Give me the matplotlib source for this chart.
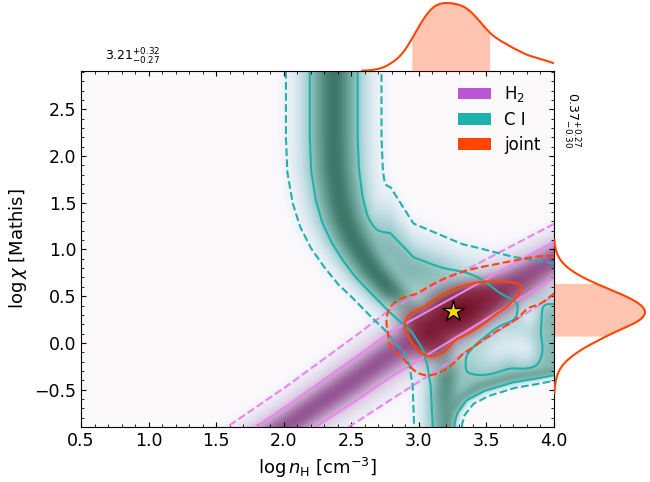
import numpy as np
import matplotlib
matplotlib.use("Agg")
import matplotlib.pyplot as plt
from matplotlib.colors import LinearSegmentedColormap
from matplotlib.patches import Patch
from matplotlib.path import Path
from matplotlib.ticker import MultipleLocator

# ---------------- data ----------------
n_range = [0.5, 4.0]
chi_range = [-0.9, 2.91]

# marginal summaries (text in the figure)
nh_med, nh_plus, nh_minus = 3.21, 0.32, 0.27
chi_med, chi_plus, chi_minus = 0.37, 0.27, 0.30
best_n, best_chi = 3.25, 0.34

# H2 constraint: ridge centre and vertical width
h2_ridge_n = [1.0, 2.01, 2.54, 2.79, 4.0, 4.6]
h2_ridge_chi = [-1.90, -0.90, -0.38, -0.125, 0.89, 1.35]
h2_ridge_w = [0.21, 0.21, 0.23, 0.24, 0.19, 0.19]

# CI constraint: L-shaped main ridge (vertices, widths, amplitudes)
ci_ridge_n = [2.37, 2.37, 2.38, 2.41, 2.45, 2.51, 2.58, 2.66, 2.75, 2.90, 3.07, 3.15, 3.19, 3.20, 3.20]
ci_ridge_chi = [3.6, 2.2, 1.85, 1.55, 1.33, 1.13, 0.95, 0.78, 0.63, 0.41, 0.19, 0.0, -0.2, -0.45, -1.3]
ci_ridge_w = [0.175, 0.175, 0.175, 0.172, 0.168, 0.163, 0.155, 0.148, 0.14, 0.14, 0.14, 0.135, 0.13,
              0.125, 0.12]
ci_ridge_amp = [1.0] * 13 + [0.9, 0.75]

# CI broad bump where the constraint is strongest
ci_bump_centre = [3.26, 0.38]
ci_bump_sig = [0.25, 0.30]
ci_bump_amp = 1.3

# CI lower strip along the sharp edge
ci_strip_n = [3.20, 3.23, 3.31, 3.46, 3.70, 4.20]
ci_strip_chi = [-1.1, -0.80, -0.60, -0.47, -0.38, -0.28]
ci_strip_w = [0.09] * 6
ci_strip_amp = [0.8] * 6

# sharp lower-right edge of the CI constraint
ci_edge_n = [3.27, 3.29, 3.31, 3.38, 3.50, 3.70, 3.90, 4.20]
ci_edge_chi = [-1.2, -0.86, -0.76, -0.63, -0.54, -0.45, -0.40, -0.31]

# CI plateau in the lower right: amplitude and upper fall-off
ci_plateau = 0.7
ci_top_n = [2.4, 2.79, 2.96, 3.33, 3.70, 4.0, 4.2]
ci_top_chi = [1.10, 0.97, 0.764, 0.563, 0.26, 0.233, 0.23]
ci_top_w = [0.40, 0.38, 0.28, 0.266, 0.36, 0.336, 0.336]

# holes inside the CI plateau: centre n, centre chi, axis angle (deg), sigma major, sigma minor, depth
hole_n = [3.62, 3.80, 3.82]
hole_chi = [-0.05, -0.10, 0.30]
hole_ang = [53.0, 90.0, 90.0]
hole_sa = [0.20, 0.12, 0.10]
hole_sb = [0.11, 0.07, 0.05]
hole_depth = [0.40, 0.30, 0.30]

# contour levels (relative density) for 1 and 2 sigma
lev_1s, lev_2s = 0.6, 0.13

# ---------------- grid and helpers ----------------
N = 420
ng = np.linspace(n_range[0], n_range[1], N)
cg = np.linspace(chi_range[0], chi_range[1], N)
X, Y = np.meshgrid(ng, cg)
P = np.column_stack([X.ravel(), Y.ravel()])


def poly_nearest(px, py):
    pts = np.column_stack([px, py])
    a = pts[:-1]
    b = pts[1:]
    ab = b - a
    L2 = (ab ** 2).sum(1)
    rel = P[:, None, :] - a[None, :, :]
    t = np.clip((rel * ab[None]).sum(2) / L2[None], 0, 1)
    proj = a[None] + t[..., None] * ab[None]
    d = np.sqrt(((P[:, None, :] - proj) ** 2).sum(2))
    idx = d.argmin(1)
    r = np.arange(len(P))
    return d[r, idx], idx, t[r, idx]


def tube(px, py, w, amp):
    d, i, t = poly_nearest(px, py)
    w = np.asarray(w)
    amp = np.asarray(amp)
    ww = w[i] * (1 - t) + w[i + 1] * t
    aa = amp[i] * (1 - t) + amp[i + 1] * t
    return (aa * np.exp(-0.5 * (d / ww) ** 2)).reshape(X.shape)


def side(px, py, extra):
    verts = list(zip(px, py)) + extra
    inside = Path(verts + [verts[0]]).contains_points(P)
    d, _, _ = poly_nearest(px, py)
    return (np.where(inside, -1.0, 1.0) * d).reshape(X.shape)


def sigmoid(z):
    return 1.0 / (1.0 + np.exp(-z))


def blob(cn, cc, ang, sa, sb):
    t = np.deg2rad(ang)
    dx, dy = X - cn, Y - cc
    a1 = dx * np.cos(t) + dy * np.sin(t)
    a2 = -dx * np.sin(t) + dy * np.cos(t)
    return np.exp(-0.5 * ((a1 / sa) ** 2 + (a2 / sb) ** 2))


# H2 band
h2_c = np.interp(X, h2_ridge_n, h2_ridge_chi)
h2_s = np.interp(X, h2_ridge_n, h2_ridge_w)
H2 = np.exp(-0.5 * ((Y - h2_c) / h2_s) ** 2)

# CI
A = tube(ci_ridge_n, ci_ridge_chi, ci_ridge_w, ci_ridge_amp)
B = tube(ci_strip_n, ci_strip_chi, ci_strip_w, ci_strip_amp)
G = ci_bump_amp * blob(ci_bump_centre[0], ci_bump_centre[1], 0.0, ci_bump_sig[0], ci_bump_sig[1])
sd_edge = side(ci_edge_n, ci_edge_chi, [(5.0, ci_edge_chi[-1]), (5.0, -2.0), (ci_edge_n[0], -2.0)])
E = sigmoid(sd_edge / 0.022)
sd_A = side(ci_ridge_n, ci_ridge_chi, [(6.0, ci_ridge_chi[-1]), (6.0, ci_ridge_chi[0])])
right_of_A = sigmoid((-sd_A + 0.04) / 0.07)
top_c = np.interp(X, ci_top_n, ci_top_chi)
top_w = np.interp(X, ci_top_n, ci_top_w)
Pl = ci_plateau * np.exp(-0.5 * (np.maximum(0, Y - top_c) / top_w) ** 2) * right_of_A
Hole = sum(d * blob(hn, hc, ha, sa, sb)
           for hn, hc, ha, sa, sb, d in zip(hole_n, hole_chi, hole_ang, hole_sa, hole_sb, hole_depth))
C = np.clip(Pl - Hole, 0, None)
pw = 8.0
CI = (A ** pw + B ** pw + C ** pw + G ** pw) ** (1 / pw) * E

# joint
J = H2 * CI
J = J / J.max()
flat = np.sort(J.ravel())[::-1]
cum = np.cumsum(flat) / flat.sum()
j1 = flat[np.searchsorted(cum, 0.68)]
j2 = flat[np.searchsorted(cum, 0.95)]

# ---------------- figure ----------------
fig = plt.figure(figsize=(6.5, 4.82), dpi=100)
L, R, T, Bt = 81 / 650, 554 / 650, 71 / 482, 427 / 482
ax = fig.add_axes([L, 1 - Bt, R - L, Bt - T])
axt = fig.add_axes([L, 1 - T, R - L, T], sharex=ax)
axr = fig.add_axes([R, 1 - Bt, 1 - R, Bt - T], sharey=ax)

ax.set_facecolor("#fcf9fb")
ext = [n_range[0], n_range[1], chi_range[0], chi_range[1]]

cm_ci = LinearSegmentedColormap.from_list("ci", [
    (0.0, (1, 1, 1, 0)), (0.1, (0.88, 0.92, 0.96, 0.4)), (0.35, (0.72, 0.85, 0.89, 0.7)),
    (0.6, (0.52, 0.75, 0.74, 0.85)), (0.85, (0.36, 0.60, 0.55, 0.95)), (1.0, (0.24, 0.47, 0.41, 1.0))])
cm_h2 = LinearSegmentedColormap.from_list("h2", [
    (0.0, (1, 1, 1, 0)), (0.12, (0.86, 0.89, 0.95, 0.45)), (0.5, (0.80, 0.70, 0.84, 0.65)),
    (1.0, (0.56, 0.30, 0.56, 0.95))])
cm_j = LinearSegmentedColormap.from_list("j", [
    (0.0, (1, 1, 1, 0)), (0.15, (0.6, 0.25, 0.35, 0.1)), (0.5, (0.55, 0.12, 0.22, 0.75)),
    (1.0, (0.45, 0.07, 0.15, 1.0))])

ax.imshow(np.clip(CI, 0, 1), origin="lower", extent=ext, aspect="auto", cmap=cm_ci, vmin=0, vmax=1,
          interpolation="bilinear")
ax.imshow(H2, origin="lower", extent=ext, aspect="auto", cmap=cm_h2, vmin=0, vmax=1, interpolation="bilinear")
ax.imshow(J, origin="lower", extent=ext, aspect="auto", cmap=cm_j, vmin=0, vmax=1, interpolation="bilinear")

lw = 1.5
ax.contour(X, Y, H2, levels=[lev_2s], colors="violet", linewidths=lw, linestyles="--")
ax.contour(X, Y, H2, levels=[lev_1s], colors="violet", linewidths=lw, linestyles="-")
ax.contour(X, Y, CI, levels=[lev_2s], colors="lightseagreen", linewidths=lw, linestyles="--")
ax.contour(X, Y, CI, levels=[lev_1s], colors="lightseagreen", linewidths=lw, linestyles="-")
ax.contour(X, Y, J, levels=[j2], colors="orangered", linewidths=lw, linestyles="--")
ax.contour(X, Y, J, levels=[j1], colors="orangered", linewidths=lw, linestyles="-")

ax.plot([best_n], [best_chi], marker="*", ms=16, mfc="gold", mec="black", mew=1.0, ls="none", zorder=10)

ax.set_xlim(n_range)
ax.set_ylim(chi_range)
ax.xaxis.set_major_locator(MultipleLocator(0.5))
ax.yaxis.set_major_locator(MultipleLocator(0.5))
ax.xaxis.set_minor_locator(MultipleLocator(0.1))
ax.yaxis.set_minor_locator(MultipleLocator(0.1))
ax.tick_params(which="both", direction="in", top=True, right=True, labelsize=12.5)
ax.set_xlabel(r"$\log n_{\rm H}$ [cm$^{-3}$]", fontsize=13)
ax.set_ylabel(r"$\log \chi$ [Mathis]", fontsize=13)

handles = [Patch(facecolor="mediumorchid"), Patch(facecolor="lightseagreen"), Patch(facecolor="orangered")]
ax.legend(handles, [r"H$_2$", "C I", "joint"], loc="upper right", frameon=False, fontsize=12,
          borderaxespad=0.4, labelspacing=0.4)

# marginals
mt = J.sum(axis=0)
mt = mt / mt.max()
mr = J.sum(axis=1)
mr = mr / mr.max()
mt_plot = np.where(mt > 0.004, mt, np.nan)
mr_plot = np.where(mr > 0.004, mr, np.nan)
axt.plot(ng, mt_plot, color="orangered", lw=1.5)
sel = (ng >= nh_med - nh_minus) & (ng <= nh_med + nh_plus)
axt.fill_between(ng[sel], 0, mt[sel], color="orangered", alpha=0.31, lw=0)
axt.set_ylim(0, 71 / 68)
axt.axis("off")
axr.plot(mr_plot, cg, color="orangered", lw=1.5)
sel = (cg >= chi_med - chi_minus) & (cg <= chi_med + chi_plus)
axr.fill_betweenx(cg[sel], 0, mr[sel], color="orangered", alpha=0.31, lw=0)
axr.set_xlim(0, 96 / 91)
axr.axis("off")

ax.text(0.05, 1.012, r"$%.2f^{+%.2f}_{-%.2f}$" % (nh_med, nh_plus, nh_minus), transform=ax.transAxes,
        fontsize=9, ha="left", va="bottom")
ax.text(1.037, 0.94, r"$%.2f^{+%.2f}_{-%.2f}$" % (chi_med, chi_plus, chi_minus), transform=ax.transAxes,
        fontsize=9, ha="center", va="top", rotation=270)

fig.savefig("out.png", dpi=100)
